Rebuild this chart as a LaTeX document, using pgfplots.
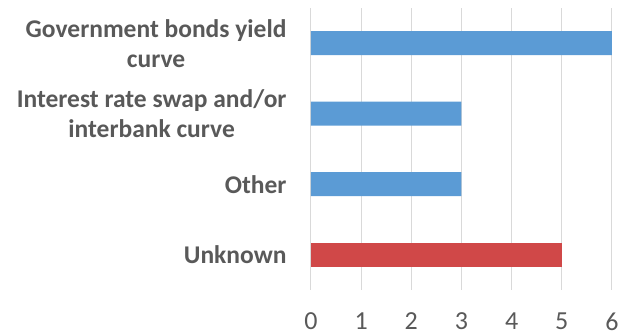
\documentclass[border=0pt]{standalone}
\usepackage{pgfplots}
\pgfplotsset{compat=1.18}
\usepackage{fontspec}
\setmainfont{Carlito}
\definecolor{barblue}{HTML}{5B9BD5}
\definecolor{barred}{HTML}{D04848}
\definecolor{txtgray}{HTML}{595959}
\definecolor{gridgray}{HTML}{D9D9D9}
\begin{document}
\begin{tikzpicture}[x=1pt,y=1pt]
\useasboundingbox (0,0) rectangle (619,336);
\begin{axis}[
  at={(311pt,46pt)}, anchor=south west,
  scale only axis, width=301pt, height=282pt,
  xmin=0, xmax=6, ymin=-0.5, ymax=3.5,
  xtick={0,1,2,3,4,5,6},
  ytick={0,1,2,3},
  yticklabels={Unknown,Other,{Interest rate swap and/or\\interbank curve},{Government bonds yield\\curve}},
  axis line style={draw=none},
  major tick length=0pt,
  xmajorgrids, major grid style={gridgray, line width=1pt},
  /pgf/number format/assume math mode=true,
  xticklabel style={font=\fontsize{26}{30}\selectfont, text=txtgray, yshift=-19pt},
  yticklabel style={font=\fontsize{25.5}{30}\selectfont\bfseries, text=txtgray, align=center, xshift=-21pt},
  xbar, bar width=24pt, bar shift=0pt,
  clip=false,
]
\addplot[draw=none, fill=barblue] coordinates {(6,3) (3,2) (3,1)};
\addplot[draw=none, fill=barred] coordinates {(5,0)};
\end{axis}
\end{tikzpicture}
\end{document}
